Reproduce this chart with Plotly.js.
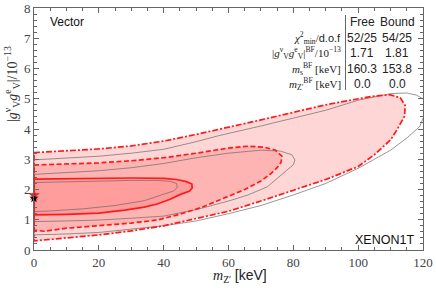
<!DOCTYPE html>
<html>
<head>
<meta charset="utf-8">
<script src="https://cdn.plot.ly/plotly-3.0.1.min.js"></script>
<style>html,body{margin:0;padding:0;background:#fff;}#chart{width:436px;height:290px;}</style>
</head>
<body>
<div id="chart"></div>
<script>
// Free fit contours (red): 3σ dash-dot, 2σ dashed, 1σ solid
const dashdotX = [0,10,20,30,40,50,60,70,80,90,100,105,110,113,114.5,114.3,112,110,105,100,90,85,79,70,60,50,40,30,20,10,0];
const dashdotY = [3.22,3.27,3.34,3.44,3.6,3.82,4.05,4.3,4.55,4.8,5.0,5.09,5.13,5.03,4.78,4.42,3.98,3.64,3.15,2.76,2.33,2.15,1.96,1.62,1.28,1.04,0.8,0.63,0.5,0.4,0.3];
const dashedX = [0,10,20,30,40,50,60,66,71,74.5,76.5,76.2,75,73,70,65,60,52,45,38,30,20,10,3,0];
const dashedY = [2.81,2.84,2.88,2.95,3.05,3.2,3.37,3.43,3.4,3.3,3.1,2.9,2.72,2.52,2.28,2.0,1.78,1.42,1.18,0.99,0.89,0.8,0.72,0.62,0.66];
const solidX = [0,10,20,30,40,44,47,48.7,48.8,48,45,42,38,34,28,20,10,0];
const solidY = [2.34,2.36,2.37,2.38,2.37,2.33,2.26,2.18,2.05,1.95,1.83,1.68,1.52,1.42,1.32,1.22,1.18,1.16];
// Bound fit contours (thin gray)
const grayOuterX = [0,10,20,30,40,50,57,70,80,90,100,110,115,118,120,121.5,120,119,115,110,100,90,80,70,60,50,40,30,20,10,0];
const grayOuterY = [2.98,3.03,3.1,3.2,3.33,3.58,3.78,4.1,4.36,4.62,4.95,5.17,5.19,5.12,5.0,4.7,4.35,4.08,3.7,3.3,2.7,2.2,1.82,1.47,1.2,0.96,0.8,0.68,0.58,0.53,0.5];
const grayMidX = [0,10,20,30,40,50,60,70,76,79.5,80.5,80,78,75,72,66,61,51,40,30,20,10,0];
const grayMidY = [2.5,2.55,2.62,2.72,2.86,3.05,3.2,3.3,3.27,3.15,2.98,2.82,2.64,2.35,2.09,1.82,1.65,1.36,1.12,1.05,0.99,0.96,0.94];
const grayInnerX = [0,10,20,30,38,42,44,44.2,43,39,34,25,15,5,0];
const grayInnerY = [2.23,2.26,2.28,2.3,2.3,2.27,2.2,2.06,1.95,1.8,1.63,1.47,1.36,1.29,1.27];
// Best-fit points
const bfFreeY = 1.71;
const bfBoundY = 1.81;
// Table
const tableCols = ["Free", "Bound"];
const tableRows = [
  "<i>χ</i><sup>2</sup><sub>min</sub>/<span style=\"font-family:'Liberation Sans'\">d.o.f</span>",
  "|<i>g</i><sup>ν</sup><sub>V</sub><i>g</i><sup>e</sup><sub>V</sub>|<sup>BF</sup>/10<sup>−13</sup>",
  "<i>m</i><sub>s</sub><sup>BF</sup> [keV]",
  "<i>m</i><sub>Z′</sub><sup>BF</sup> [keV]"
];
const freeVals = ["52/25", "1.71", "160.3", "0.0"];
const boundVals = ["54/25", "1.81", "153.8", "0.0"];
const xTicks = [0,20,40,60,80,100,120];
const yTicks = [0,1,2,3,4,5,6,7,8];

const RED = '#ff1a1a';
const traces = [];
function fillTrace(x, y, color) {
  traces.push({x:x, y:y, type:'scatter', mode:'lines', fill:'toself', fillcolor:color,
    line:{width:0, color:color}, hoverinfo:'skip', showlegend:false});
}
function lineTrace(x, y, color, width, dash) {
  traces.push({x:x.concat([x[0]]), y:y.concat([y[0]]), type:'scatter', mode:'lines',
    line:{width:width, color:color, dash:dash}, hoverinfo:'skip', showlegend:false});
}
fillTrace(dashdotX, dashdotY, '#ffd6d6');
fillTrace(dashedX, dashedY, '#ffb4b4');
fillTrace(solidX, solidY, '#ff9c9c');
lineTrace(grayOuterX, grayOuterY, '#6a6a6a', 0.7, 'solid');
lineTrace(grayMidX, grayMidY, '#6a6a6a', 0.7, 'solid');
lineTrace(grayInnerX, grayInnerY, '#6a6a6a', 0.7, 'solid');
lineTrace(dashdotX, dashdotY, RED, 1.7, '6px,2px,2px,2px');
lineTrace(dashedX, dashedY, RED, 1.7, '5px,2.5px');
lineTrace(solidX, solidY, RED, 1.7, 'solid');
traces.push({x:[0], y:[bfBoundY], type:'scatter', mode:'markers', cliponaxis:false,
  marker:{symbol:'star', size:9, color:RED}, hoverinfo:'skip', showlegend:false});
traces.push({x:[0], y:[bfFreeY], type:'scatter', mode:'markers', cliponaxis:false,
  marker:{symbol:'star', size:7, color:'#000'}, hoverinfo:'skip', showlegend:false});

const SERIF = "'Liberation Serif', 'DejaVu Serif', serif";
const SANS = "'Liberation Sans', Arial, sans-serif";
const annotations = [];
const L = 34, T = 8, W = 389, H = 242;
function pxX(p){ return (p - L) / W; }
function pxY(p){ return 1 - (p - T) / H; }
const rowPy = [37.5, 53, 68.5, 83.5];
annotations.push({xref:'paper', yref:'paper', x:pxX(362), y:pxY(22.5), text:tableCols[0], showarrow:false,
  xanchor:'center', yanchor:'middle', font:{family:SANS, size:12, color:'#222'}});
annotations.push({xref:'paper', yref:'paper', x:pxX(397), y:pxY(22.5), text:tableCols[1], showarrow:false,
  xanchor:'center', yanchor:'middle', font:{family:SANS, size:12, color:'#222'}});
for (let i = 0; i < tableRows.length; i++) {
  annotations.push({xref:'paper', yref:'paper', x:pxX(343), y:pxY(rowPy[i]), text:tableRows[i], showarrow:false,
    xanchor:'right', yanchor:'middle', font:{family:SERIF, size:11, color:'#222'}});
  annotations.push({xref:'paper', yref:'paper', x:pxX(362), y:pxY(rowPy[i]), text:freeVals[i], showarrow:false,
    xanchor:'center', yanchor:'middle', font:{family:SANS, size:12, color:'#222'}});
  annotations.push({xref:'paper', yref:'paper', x:pxX(397), y:pxY(rowPy[i]), text:boundVals[i], showarrow:false,
    xanchor:'center', yanchor:'middle', font:{family:SANS, size:12, color:'#222'}});
}
annotations.push({xref:'paper', yref:'paper', x:pxX(48), y:pxY(22), text:'Vector', showarrow:false,
  xanchor:'left', yanchor:'middle', font:{family:SANS, size:12, color:'#111'}});
annotations.push({xref:'paper', yref:'paper', x:pxX(416), y:pxY(240), text:'XENON1T', showarrow:false,
  xanchor:'right', yanchor:'middle', font:{family:SANS, size:12.5, color:'#111'}});
annotations.push({xref:'paper', yref:'paper', x:pxX(12), y:pxY(84), text:'|<i>g</i><sup>ν</sup><sub>V</sub><i>g</i><sup>e</sup><sub>V</sub>|/10<sup>−13</sup>',
  showarrow:false, textangle:-90, xanchor:'center', yanchor:'middle', font:{family:SERIF, size:14, color:'#333'}});
annotations.push({xref:'paper', yref:'paper', x:pxX(240), y:pxY(276), text:'<i>m</i><sub>Z′</sub> <span style="font-family:\'Liberation Sans\'">[keV]</span>',
  showarrow:false, xanchor:'center', yanchor:'middle', font:{family:SERIF, size:14, color:'#222'}});

const axisCommon = {
  showgrid:false, zeroline:false, showline:true, linecolor:'#666', linewidth:1, mirror:'ticks',
  ticks:'inside', ticklen:5, tickcolor:'#666', tickwidth:1, layer:'above traces',
  tickfont:{family:SERIF, size:13, color:'#444'}
};
const layout = {
  width:436, height:290,
  margin:{l:34, r:13, t:8, b:40},
  paper_bgcolor:'#fff', plot_bgcolor:'#fff',
  showlegend:false,
  xaxis:Object.assign({}, axisCommon, {range:[0,120], tickvals:xTicks, ticktext:xTicks.map(String),
    minor:{dtick:5, tick0:0, ticks:'inside', ticklen:3, tickcolor:'#666'}}),
  yaxis:Object.assign({}, axisCommon, {range:[0,8], tickvals:yTicks, ticktext:yTicks.map(String),
    minor:{dtick:0.2, tick0:0, ticks:'inside', ticklen:3, tickcolor:'#666'}}),
  shapes:[{type:'line', xref:'paper', yref:'paper', x0:pxX(345.5), x1:pxX(345.5), y0:pxY(15), y1:pxY(90),
    line:{color:'#444', width:0.8}}],
  annotations:annotations
};
Plotly.newPlot('chart', traces, layout, {staticPlot:true, displayModeBar:false});
</script>
</body>
</html>
